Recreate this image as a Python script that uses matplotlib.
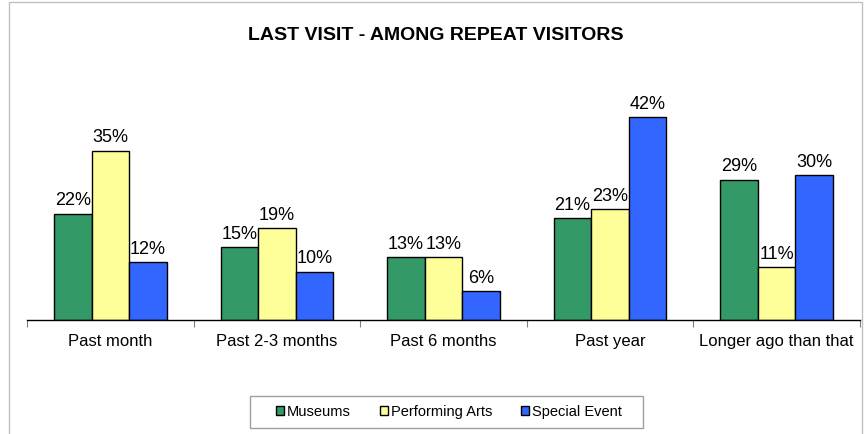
import matplotlib.pyplot as plt
import numpy as np
from matplotlib.patches import Rectangle

plt.rcParams['font.family'] = ['Liberation Sans', 'DejaVu Sans']

# data
categories = ['Past month', 'Past 2-3 months', 'Past 6 months', 'Past year', 'Longer ago than that']
museums = [22, 15, 13, 21, 29]
performing_arts = [35, 19, 13, 23, 11]
special_event = [12, 10, 6, 42, 30]

series = [('Museums', museums, '#339966'),
          ('Performing Arts', performing_arts, '#FFFF99'),
          ('Special Event', special_event, '#3366FF')]

W, H = 866, 434
fig = plt.figure(figsize=(W / 100, H / 100), dpi=100)
ax = fig.add_axes([27 / W, 1 - 320 / H, (860 - 27) / W, (320 - 62) / H])

x = np.arange(len(categories))
bw = 0.225
handles = []
for i, (name, vals, col) in enumerate(series):
    bars = ax.bar(x + (i - 1) * bw, vals, bw, color=col, edgecolor='black',
                  linewidth=1, label=name)
    ax.bar_label(bars, labels=['%d%%' % v for v in vals], padding=3, fontsize=13)
    handles.append(bars)

ax.set_xlim(-0.5, len(categories) - 0.5)
ax.set_ylim(0, (320 - 62) / 4.84)

for s in ['top', 'right', 'left']:
    ax.spines[s].set_visible(False)
ax.spines['bottom'].set_linewidth(1)
ax.set_yticks([])
ax.set_xticks(x)
ax.set_xticklabels(categories, fontsize=12)
ax.tick_params(axis='x', which='major', length=0, pad=10)
ax.set_xticks(np.arange(-0.5, len(categories), 1), minor=True)
ax.tick_params(axis='x', which='minor', length=5, width=0.8, color='#808080')

fig.text(436 / W, 1 - 35 / H, 'LAST VISIT - AMONG REPEAT VISITORS',
         ha='center', va='center', fontsize=14, fontweight='bold')

leg = fig.legend(handles=handles, loc='center', bbox_to_anchor=(449 / W, 1 - 412 / H),
                 bbox_transform=fig.transFigure, ncol=3, fontsize=10.5,
                 handlelength=0.55, handleheight=0.55, handletextpad=0.2,
                 columnspacing=2.0, frameon=False, borderpad=0,
                 borderaxespad=0)

# legend box
fig.patches.append(Rectangle((250 / W, 1 - 428 / H), (643 - 250) / W, 32 / H,
                             transform=fig.transFigure, fill=False,
                             edgecolor='#a0a0a0', linewidth=1))

# outer chart border
fig.patches.append(Rectangle((8.5 / W, -0.01), (862 - 8.5) / W, 1 - 1.5 / H + 0.01,
                             transform=fig.transFigure, fill=False,
                             edgecolor='#c0c0c0', linewidth=1))

fig.savefig('out.png', dpi=100)
